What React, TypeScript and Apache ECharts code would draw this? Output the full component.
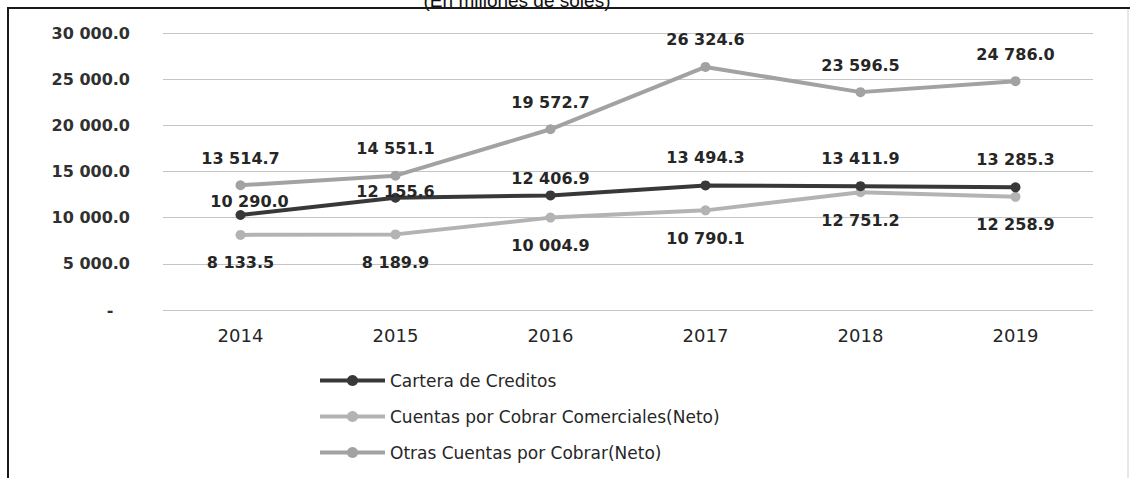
import React, { useEffect, useRef } from "react";
import * as echarts from "echarts";

const categories = ["2014", "2015", "2016", "2017", "2018", "2019"];
const carteraValues = [10290.0, 12155.6, 12406.9, 13494.3, 13411.9, 13285.3];
const comercialesValues = [8133.5, 8189.9, 10004.9, 10790.1, 12751.2, 12258.9];
const otrasValues = [13514.7, 14551.1, 19572.7, 26324.6, 23596.5, 24786.0];
const seriesNames = [
  "Cartera de Creditos",
  "Cuentas por Cobrar Comerciales(Neto)",
  "Otras Cuentas por Cobrar(Neto)",
];
const titleText = "(En millones de soles)";

// label nudges (style only) for the Cartera labels that were moved in the original
const carteraLabelShift = [
  [9, 15],
  [0, 22],
  [0, 11],
  [0, 0],
  [0, 0],
  [0, 0],
];

const FONT = "DejaVu Sans";

function fmt(v: number): string {
  const s = v.toFixed(1);
  const [i, d] = s.split(".");
  return i.replace(/\B(?=(\d{3})+(?!\d))/g, " ") + "." + d;
}

export default function App() {
  const ref = useRef<HTMLDivElement>(null);
  useEffect(() => {
    if (!ref.current) return;
    const chart = echarts.init(ref.current, null, { renderer: "svg" });
    const labelBase = {
      show: true,
      fontFamily: FONT,
      fontSize: 16,
      fontWeight: "bold",
      color: "#262626",
      formatter: (p: any) => fmt(p.value),
    };
    chart.setOption({
      animation: false,
      backgroundColor: "#ffffff",
      grid: { left: 163, right: 37, top: 33, bottom: 168 },
      legend: {
        orient: "vertical",
        left: 313,
        top: 367,
        itemWidth: 65,
        itemHeight: 14,
        itemGap: 19,
        lineStyle: { width: 4 },
        textStyle: { fontFamily: FONT, fontSize: 17, color: "#262626" },
        data: seriesNames,
      },
      xAxis: {
        type: "category",
        data: categories,
        boundaryGap: true,
        axisLine: { show: false },
        axisTick: { show: false },
        axisLabel: { fontFamily: FONT, fontSize: 18, color: "#262626", margin: 16 },
      },
      yAxis: {
        type: "value",
        min: 0,
        max: 30000,
        interval: 5000,
        axisLine: { show: false },
        axisTick: { show: false },
        splitLine: { lineStyle: { color: "#c4c4c4", width: 1 } },
        axisLabel: {
          fontFamily: FONT,
          fontSize: 16,
          fontWeight: "bold",
          color: "#303030",
          margin: 33,
          formatter: (v: number) => (v === 0 ? "-   " : fmt(v)),
        },
      },
      graphic: [
        {
          type: "text",
          x: 517,
          y: -9,
          z: 5,
          style: {
            text: titleText,
            fontFamily: "Liberation Sans",
            fontSize: 19,
            fill: "#111",
            align: "center",
            verticalAlign: "top",
          },
        },
        {
          type: "line",
          z: 10,
          shape: { x1: 7, y1: 8, x2: 1130, y2: 8 },
          style: { stroke: "#1a1a1a", lineWidth: 2 },
        },
        {
          type: "line",
          z: 10,
          shape: { x1: 8, y1: 7, x2: 8, y2: 478 },
          style: { stroke: "#1a1a1a", lineWidth: 2 },
        },
        {
          type: "line",
          z: 10,
          shape: { x1: 1128, y1: 9, x2: 1128, y2: 478 },
          style: { stroke: "#d0d0d0", lineWidth: 1 },
        },
      ],
      series: [
        {
          name: seriesNames[1],
          type: "line",
          data: comercialesValues,
          symbol: "circle",
          symbolSize: 10,
          z: 2,
          lineStyle: { color: "#b3b3b3", width: 4 },
          itemStyle: { color: "#b3b3b3" },
          label: { ...labelBase, position: "bottom", distance: 15 },
        },
        {
          name: seriesNames[2],
          type: "line",
          data: otrasValues,
          symbol: "circle",
          symbolSize: 10,
          z: 2,
          lineStyle: { color: "#a2a2a2", width: 4 },
          itemStyle: { color: "#a2a2a2" },
          label: { ...labelBase, position: "top", distance: 14 },
        },
        {
          name: seriesNames[0],
          type: "line",
          z: 3,
          data: carteraValues.map((v, i) => ({
            value: v,
            label: { offset: carteraLabelShift[i] },
          })),
          symbol: "circle",
          symbolSize: 10,
          lineStyle: { color: "#383838", width: 4 },
          itemStyle: { color: "#383838" },
          label: { ...labelBase, position: "top", distance: 15 },
        },
      ],
    });
    return () => chart.dispose();
  }, []);
  return (
    <div
      ref={ref}
      style={{ position: "absolute", left: 0, top: 0, width: 1130, height: 478, background: "#fff" }}
    />
  );
}
